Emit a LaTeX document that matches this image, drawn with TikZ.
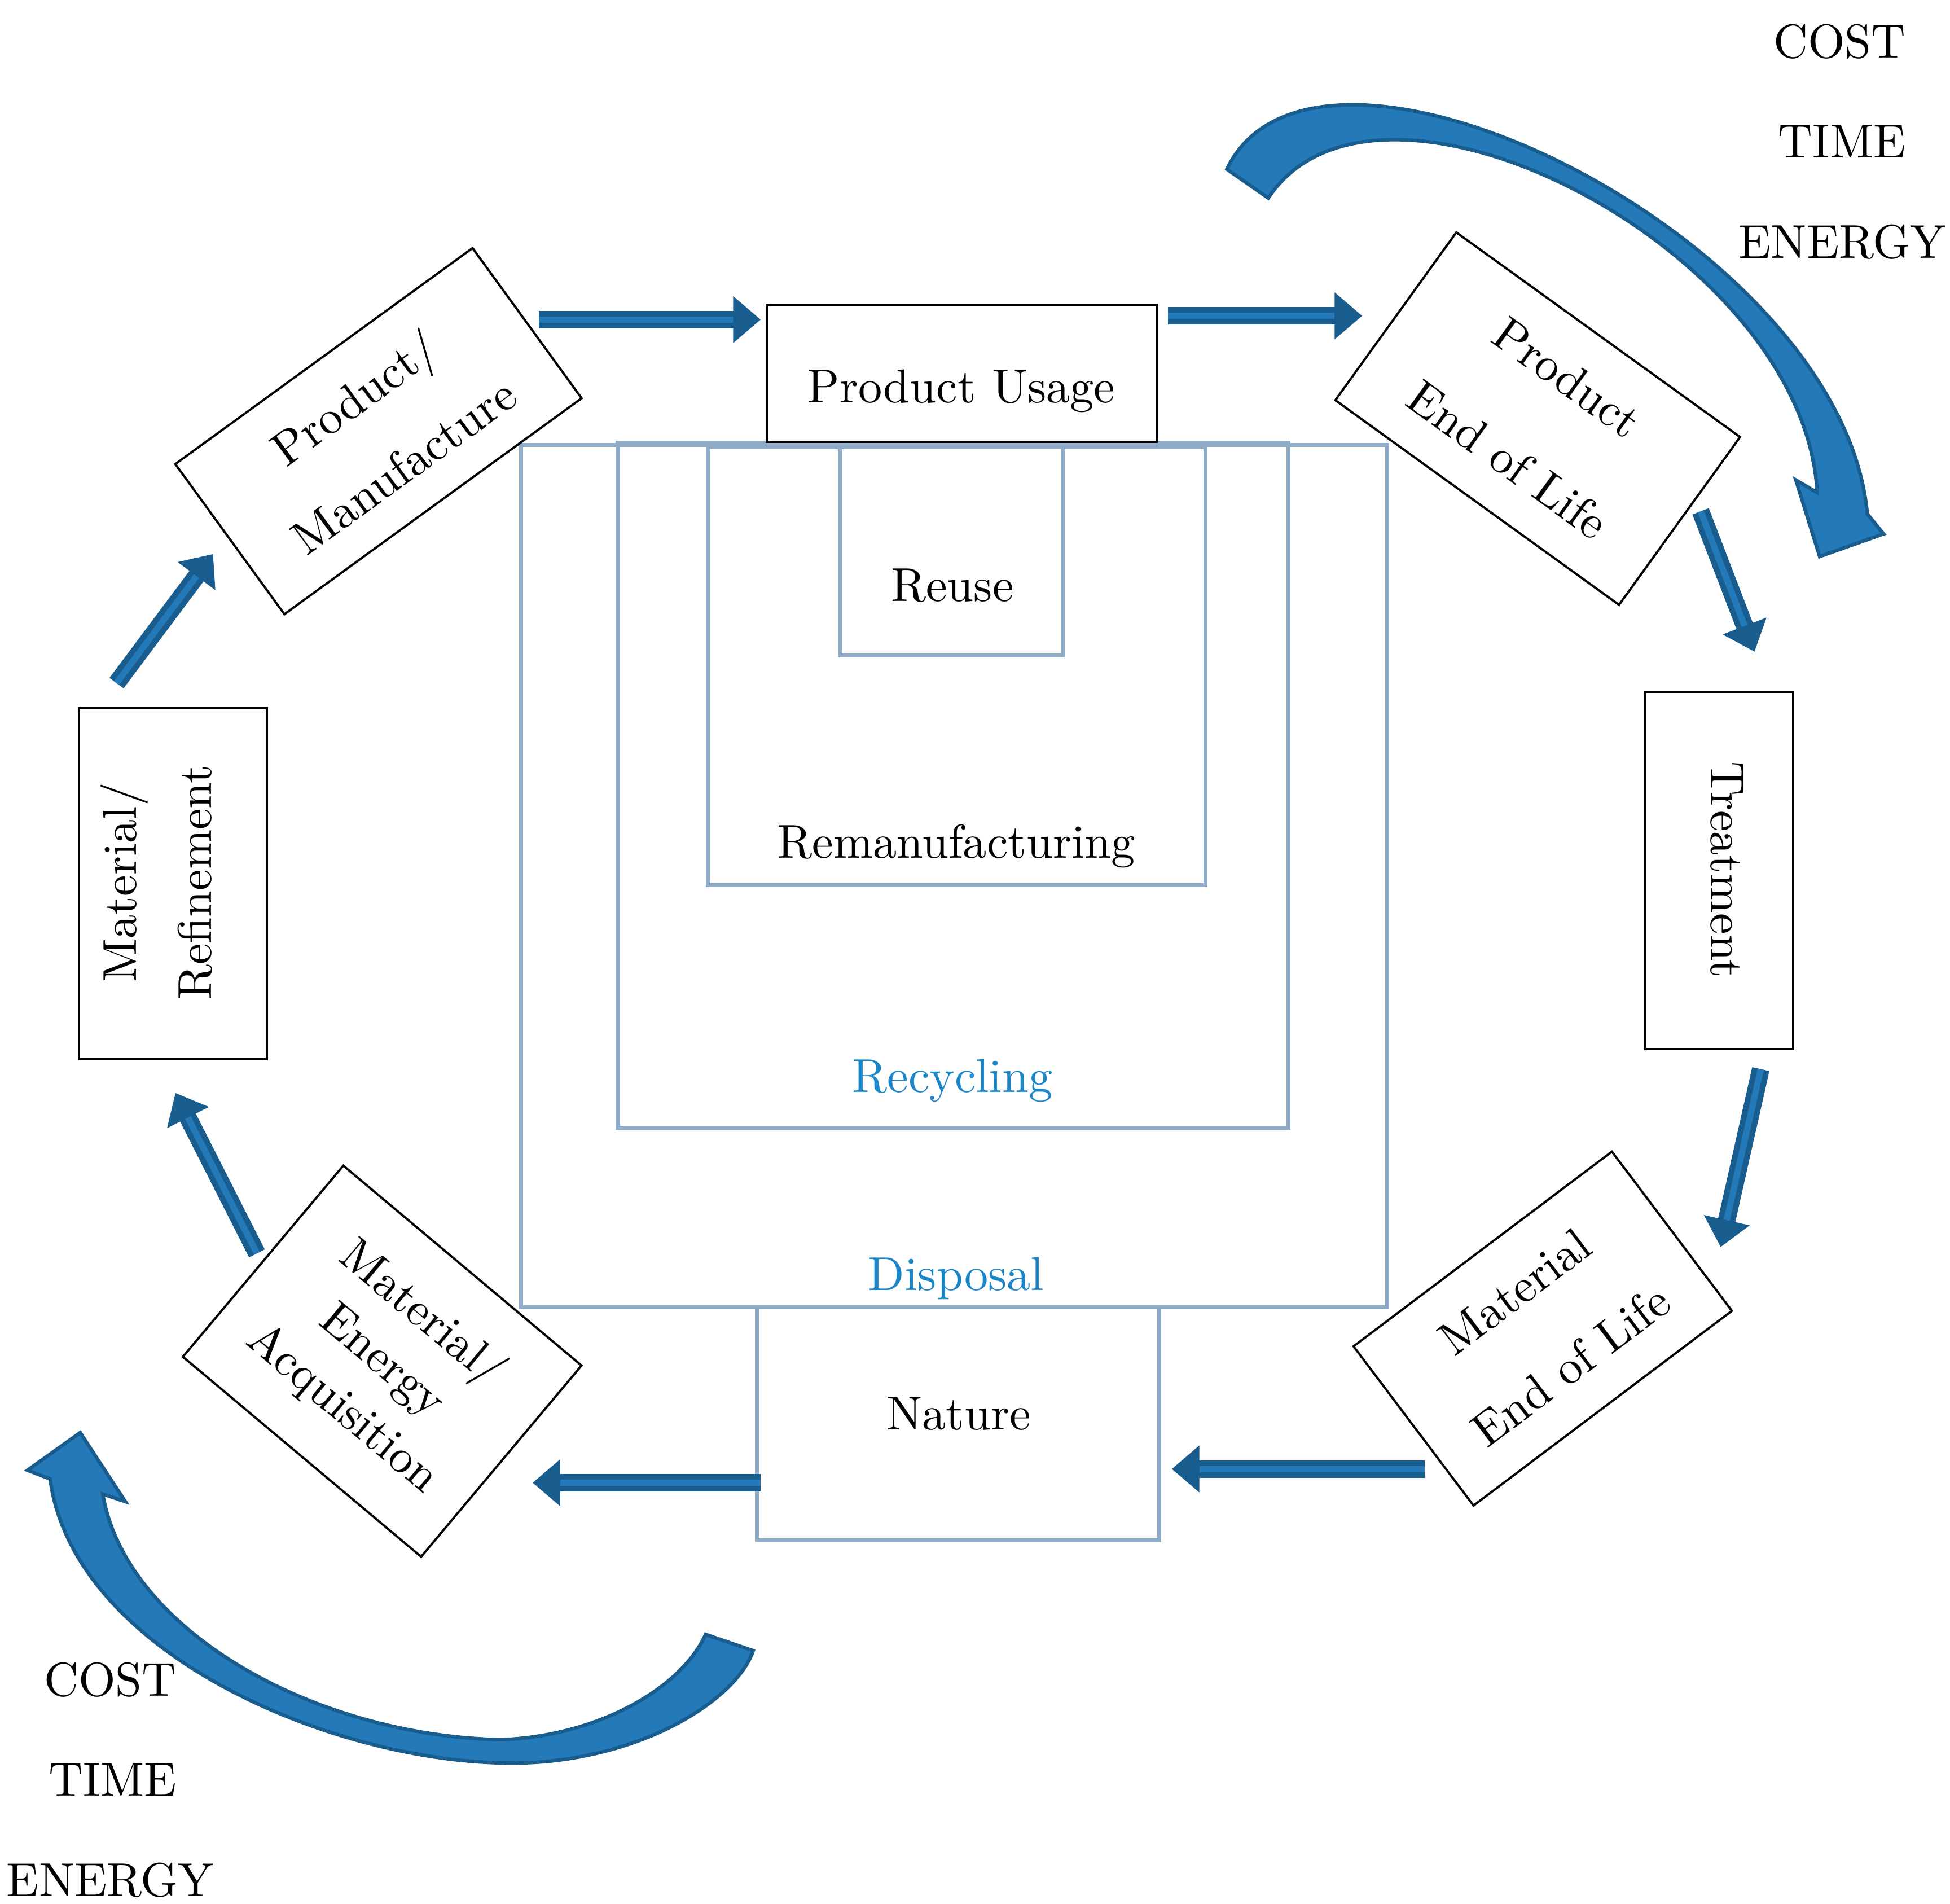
\documentclass[tikz,border=0pt]{standalone}
\usetikzlibrary{arrows.meta}
\definecolor{dkb}{HTML}{195C8E}
\definecolor{ltb}{HTML}{2479B8}
\definecolor{gb}{HTML}{8FABC8}
\definecolor{tb}{HTML}{1A86C8}
\begin{document}
\begin{tikzpicture}[x=0.01cm,y=-0.01cm,
  font=\fontsize{10.8}{13}\selectfont,
  bx/.style={draw=black,line width=0.5pt,align=center,inner sep=0pt},
  gbx/.style={draw=gb,line width=0.9pt},
  fat/.style={draw=dkb,line width=0.14cm,-{Triangle[width=0.36cm,length=0.22cm]}},
  fatin/.style={draw=ltb,line width=0.05cm,shorten >=0.22cm},
  cresc/.style={fill=ltb,draw=dkb,line width=0.8pt}]
\useasboundingbox (0,0) rectangle (1556,1519);
% light boxes
\draw[gbx] (416,355) rectangle (1107,1043);
\draw[gbx] (493,353) rectangle (1028,900);
\draw[gbx] (565,357) rectangle (962,706);
\draw[gbx] (670,355) rectangle (848,523);
\node[gbx,minimum width=3.21cm,minimum height=1.86cm,fill=white] (nat) at (764.5,1136) {};
\node at (765,1128) {Nature};
\node at (760,467) {Reuse};
\node at (763,675) {Remanufacturing};
\node[text=tb] at (760,862) {Recycling};
\node[text=tb] at (763,1020) {Disposal};
% black boxes
\node[bx,minimum width=3.11cm,minimum height=1.10cm,fill=white] (pu) at (767.5,298) {};
\node at (767,312) {Product Usage};
\draw[gb,line width=0.9pt] (416,355) -- (1107,355);
\node[bx,rotate=36,minimum width=2.93cm,minimum height=1.48cm] (pm) at (302,344) {Product/\\[6pt]Manufacture};
\node[bx,rotate=-35.8,minimum width=2.79cm,minimum height=1.65cm] (pe) at (1227,334) {Product\\[10pt]End of Life};
\node[bx,minimum width=1.18cm,minimum height=2.85cm] (tr) at (1372,694.5) {};
\node[rotate=-90] at (1378,694) {Treatment};
\node[bx,rotate=37,minimum width=2.58cm,minimum height=1.59cm] (me) at (1231,1060) {Material\\[8pt]End of Life};
\node[bx,rotate=-40,minimum width=2.48cm,minimum height=1.99cm] (ma) at (305,1086) {Material/\\[1pt]Energy\\[1pt]Acquisition};
\node[bx,minimum width=1.50cm,minimum height=2.80cm] (mr) at (138,705) {};
\node[rotate=90,align=center] at (125,704) {Material/\\[4pt]Refinement};
% labels
\node at (1468,33) {COST};
\node at (1470,113) {TIME};
\node at (1470,193) {ENERGY};
\node at (88,1340) {COST};
\node at (90,1420) {TIME};
\node at (88,1500) {ENERGY};
% arrow endpoints
\coordinate (a1) at (430,255); \coordinate (b1) at (607,255);
\coordinate (a2) at (932,252); \coordinate (b2) at (1087,252);
\coordinate (a3) at (1357,408); \coordinate (b3) at (1400,520);
\coordinate (a4) at (1405,853); \coordinate (b4) at (1373,995);
\coordinate (a5) at (1137,1172); \coordinate (b5) at (935,1172);
\coordinate (a6) at (607,1183); \coordinate (b6) at (425,1183);
\coordinate (a7) at (205,1000); \coordinate (b7) at (140,872);
\coordinate (a8) at (93,545); \coordinate (b8) at (170,442);
\foreach \i in {1,...,8}{\draw[fat] (a\i) -- (b\i); \draw[fatin] (a\i) -- (b\i);}
% curved arrows
\draw[cresc] (979,135) .. controls (1050,-15) and (1470,190) .. (1490,410)
  -- (1503,426) -- (1452,444) -- (1433,383) -- (1450,393)
  .. controls (1440,200) and (1100,25) .. (1012,158) -- cycle;
\draw[cresc] (40,1180) .. controls (60,1330) and (300,1420) .. (440,1405)
  .. controls (530,1395) and (590,1350) .. (601,1317) -- (563,1304)
  .. controls (545,1345) and (480,1385) .. (400,1388)
  .. controls (250,1385) and (100,1300) .. (82,1192)
  -- (100,1198) -- (64,1143) -- (22,1173) -- cycle;
\end{tikzpicture}
\end{document}
